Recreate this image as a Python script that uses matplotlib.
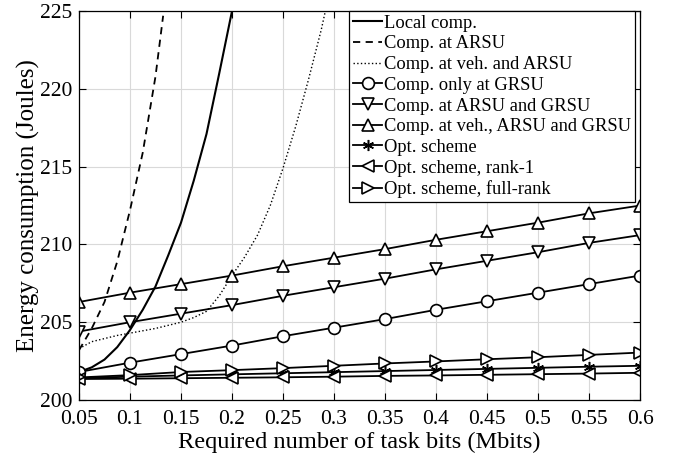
import matplotlib
matplotlib.use("Agg")
import matplotlib.pyplot as plt

plt.rcParams['font.family'] = ['Liberation Serif', 'DejaVu Serif']
plt.rcParams['mathtext.fontset'] = 'stix'

# task bits (Mbits) where the markers sit
taskBits = [0.05, 0.1, 0.15, 0.2, 0.25, 0.3, 0.35, 0.4, 0.45, 0.5, 0.55, 0.6]
xTickLabels = ['0.05', '0.1', '0.15', '0.2', '0.25', '0.3', '0.35', '0.4', '0.45', '0.5', '0.55', '0.6']

# curves (they leave the plot at 225 J)
localX = [0.05, 0.0625, 0.075, 0.0875, 0.1, 0.1125, 0.125, 0.1375, 0.15, 0.1625, 0.175, 0.1875, 0.2]
localY = [201.8, 202.1, 202.6, 203.4, 204.5, 205.8, 207.3, 209.3, 211.4, 214.1, 217.1, 221.0, 225.0]

arsuX = [0.05, 0.0625, 0.075, 0.0875, 0.1, 0.1125, 0.125, 0.1325]
arsuY = [203.2, 204.6, 206.3, 208.9, 212.2, 215.9, 220.8, 224.7]

vehArsuX = [0.05, 0.0625, 0.075, 0.0875, 0.1, 0.125, 0.15, 0.1625, 0.175, 0.1875, 0.2,
            0.2125, 0.225, 0.2375, 0.25, 0.2625, 0.275, 0.2875, 0.2915]
vehArsuY = [203.3, 203.75, 203.95, 204.15, 204.3, 204.6, 205.0, 205.3, 205.7, 206.7, 208.0,
            209.2, 210.6, 212.5, 214.9, 217.6, 220.6, 223.8, 225.0]

# marker series
onlyGrsu = [201.8, 202.4, 202.95, 203.5, 204.1, 204.65, 205.2, 205.8, 206.35, 206.9, 207.45, 208.0]
arsuGrsu = [204.4, 205.0, 205.55, 206.1, 206.7, 207.25, 207.8, 208.4, 208.95, 209.5, 210.1, 210.6]
vehArsuGrsu = [206.3, 206.9, 207.45, 208.0, 208.6, 209.15, 209.7, 210.3, 210.85, 211.4, 212.0, 212.5]
optScheme = [201.4, 201.5, 201.58, 201.65, 201.72, 201.79, 201.86, 201.93, 202.0, 202.07, 202.14, 202.2]
optRank1 = [201.35, 201.37, 201.4, 201.43, 201.46, 201.5, 201.55, 201.58, 201.62, 201.66, 201.7, 201.75]
optFullRank = [201.45, 201.6, 201.8, 201.92, 202.05, 202.2, 202.35, 202.48, 202.62, 202.75, 202.9, 203.05]

legendNames = ['Local comp.', 'Comp. at ARSU', 'Comp. at veh. and ARSU', 'Comp. only at GRSU',
               'Comp. at ARSU and GRSU', 'Comp. at veh., ARSU and GRSU', 'Opt. scheme',
               'Opt. scheme, rank-1', 'Opt. scheme, full-rank']

fig = plt.figure(figsize=(6.78, 4.66), dpi=100)
ax = fig.add_axes([0.1165, 0.1416, 0.8275, 0.8346])

lw = 1.3
ms = 8.5
mk = dict(markerfacecolor='white', markeredgecolor='black', markeredgewidth=1.2, markersize=ms)

ax.plot(localX, localY, '-', color='black', lw=1.5, label=legendNames[0])
ax.plot(arsuX, arsuY, '--', color='black', lw=1.3, dashes=(4, 3), label=legendNames[1])
ax.plot(vehArsuX, vehArsuY, ':', color='black', lw=1.0, label=legendNames[2])
ax.plot(taskBits, onlyGrsu, '-o', color='black', lw=lw, label=legendNames[3], **mk)
ax.plot(taskBits, arsuGrsu, '-v', color='black', lw=lw, label=legendNames[4], **mk)
ax.plot(taskBits, vehArsuGrsu, '-^', color='black', lw=lw, label=legendNames[5], **mk)
# MATLAB style asterisk
ax.plot(taskBits, optScheme, '-', marker=(6, 2, 0), color='black', lw=lw, markersize=8,
        markeredgewidth=1.1, label=legendNames[6])
ax.plot(taskBits, optRank1, '-<', color='black', lw=lw, label=legendNames[7], **mk)
ax.plot(taskBits, optFullRank, '->', color='black', lw=lw, label=legendNames[8], **mk)

ax.set_xlim(0.05, 0.6)
ax.set_ylim(200, 225)
ax.set_xticks(taskBits)
ax.set_xticklabels(xTickLabels)
ax.set_yticks([200, 205, 210, 215, 220, 225])
ax.tick_params(direction='in', top=True, right=True, labelsize=15.5, length=5, width=0.8)
ax.tick_params(axis='x', pad=7)
ax.tick_params(axis='y', pad=5)
ax.grid(True, color='#d9d9d9', lw=0.8)
ax.set_axisbelow(True)
for s in ax.spines.values():
    s.set_linewidth(0.9)

ax.set_xlabel('Required number of task bits (Mbits)', fontsize=17.6, labelpad=2)
ax.set_ylabel('Energy consumption (Joules)', fontsize=18, labelpad=0)

leg = ax.legend(loc='upper right', fontsize=13.3, numpoints=1, handlelength=1.6,
                handletextpad=0.1, borderpad=0.2, labelspacing=0.2, borderaxespad=0.0,
                fancybox=False, framealpha=1, edgecolor='black', bbox_to_anchor=(0.991, 1.0))
leg.get_frame().set_linewidth(0.9)

plt.savefig('out.png', dpi=100)
